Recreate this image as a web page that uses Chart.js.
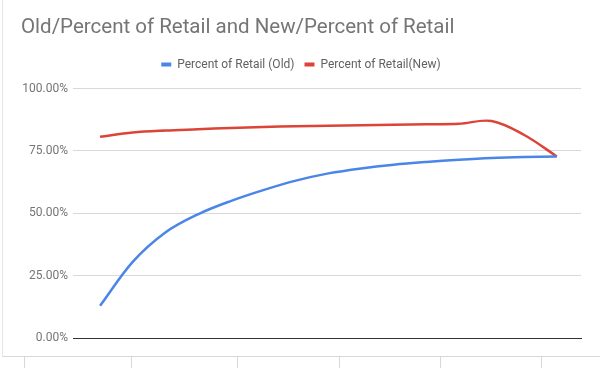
<!DOCTYPE html>
<html>
<head>
<meta charset="utf-8">
<script src="https://cdn.jsdelivr.net/npm/chart.js@4/dist/chart.umd.min.js"></script>
<style>
  html, body { margin: 0; padding: 0; background: #fff; }
  #wrap { position: relative; width: 600px; height: 368px; overflow: hidden; }
  #frame { position: absolute; left: 2px; top: 0; width: 598px; height: 356px;
           border-left: 1px solid #e6e6e6; border-bottom: 1px solid #d8d8d8; }
  .col { position: absolute; top: 357px; width: 1px; height: 11px; background: #d8d8d8; }
  canvas { position: absolute; left: 0; top: 0; }
</style>
</head>
<body>
<div id="wrap">
  <div id="frame"></div>
  <div class="col" style="left:24px"></div>
  <div class="col" style="left:131px"></div>
  <div class="col" style="left:237px"></div>
  <div class="col" style="left:339px"></div>
  <div class="col" style="left:440px"></div>
  <div class="col" style="left:541px"></div>
  <canvas id="chart" width="600" height="368"></canvas>
</div>
<script>
// values (percent)
const periods = [1, 2, 3, 4, 5, 6, 7, 8, 9, 10, 11, 12, 13, 14, 15];
const oldPct = [12.9, 30.5, 42.3, 49.6, 54.9, 59.3, 63.1, 66.0, 68.0, 69.5, 70.6, 71.5, 72.2, 72.6, 72.8];
const newPct = [80.7, 82.4, 83.2, 83.7, 84.2, 84.6, 84.9, 85.1, 85.3, 85.5, 85.7, 85.9, 87.0, 81.4, 72.8];
const seriesNames = ['Percent of Retail (Old)', 'Percent of Retail(New)'];
const yTicks = [0, 25, 50, 75, 100];

const grey = '#757575';
const font = 'Roboto';

const toPoints = vals => vals.map((v, i) => ({ x: periods[i], y: v }));

// push the plot down a little under the legend
const legendGap = {
  id: 'legendGap',
  beforeInit(chart) {
    const fit = chart.legend.fit;
    chart.legend.fit = function () {
      fit.call(this);
      this.height += 8;
    };
  }
};

new Chart(document.getElementById('chart'), {
  type: 'line',
  data: {
    datasets: [
      {
        label: seriesNames[0],
        data: toPoints(oldPct),
        borderColor: '#4a86e8',
        backgroundColor: '#4a86e8',
        borderWidth: 2.5,
        pointRadius: 0,
        tension: 0.35
      },
      {
        label: seriesNames[1],
        data: toPoints(newPct),
        borderColor: '#db4437',
        backgroundColor: '#db4437',
        borderWidth: 2.5,
        pointRadius: 0,
        tension: 0.35
      }
    ]
  },
  plugins: [legendGap],
  options: {
    responsive: false,
    animation: false,
    layout: { padding: { left: 21, right: 19, top: 0, bottom: 0 } },
    plugins: {
      title: {
        display: true,
        text: 'Old/Percent of Retail and New/Percent of Retail',
        align: 'start',
        color: grey,
        font: { family: font, size: 20.5, weight: 'normal' },
        padding: { top: 16, bottom: 8 }
      },
      legend: {
        position: 'top',
        labels: {
          boxWidth: 10,
          boxHeight: 4,
          color: '#616161',
          font: { family: font, size: 12 },
          padding: 10,
          generateLabels: chart =>
            Chart.defaults.plugins.legend.labels.generateLabels(chart)
              .map(l => ({ ...l, lineWidth: 0 }))
        }
      },
      tooltip: { enabled: false }
    },
    scales: {
      x: {
        type: 'linear',
        min: periods[0] - 0.83,
        max: periods[periods.length - 1] + 0.74,
        ticks: { display: false },
        grid: { display: false },
        border: { color: '#333', width: 1 },
        afterFit: s => { s.height = 30; }
      },
      y: {
        min: yTicks[0],
        max: yTicks[yTicks.length - 1],
        afterBuildTicks: s => { s.ticks = yTicks.map(v => ({ value: v })); },
        ticks: {
          color: grey,
          font: { family: font, size: 12 },
          padding: 5,
          callback: v => v.toFixed(2) + '%'
        },
        grid: {
          drawTicks: false,
          color: c => (c.tick && c.tick.value === 0 ? '#333' : '#d9d9d9')
        },
        border: { display: false },
        afterFit: s => { s.width = 52; }
      }
    }
  }
});
</script>
</body>
</html>
